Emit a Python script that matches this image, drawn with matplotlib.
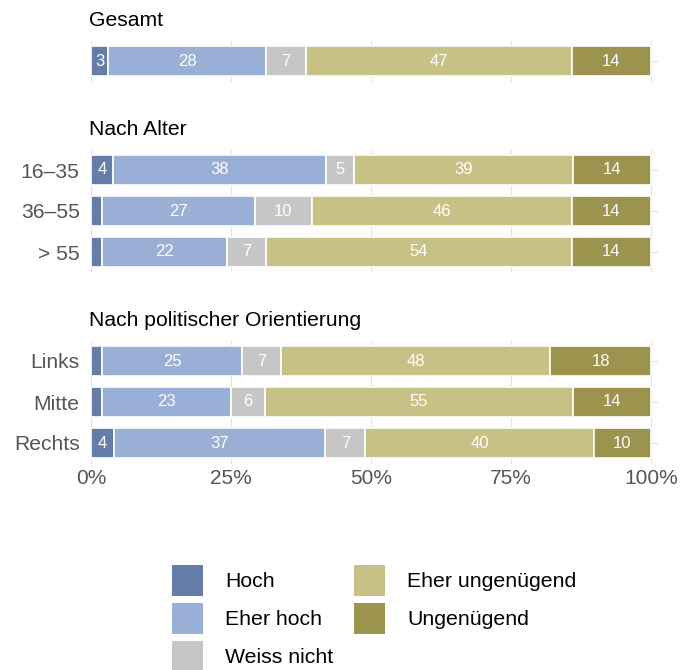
import matplotlib.pyplot as plt
from matplotlib.patches import Patch
import numpy as np

plt.rcParams['font.family'] = ['Liberation Sans', 'DejaVu Sans']

# Antwortkategorien und Farben
categories = ['Hoch', 'Eher hoch', 'Weiss nicht', 'Eher ungenügend', 'Ungenügend']
colors = ['#657da8', '#9aafd6', '#c6c6c6', '#c7c185', '#9c944e']

# Anteile in Prozent je Gruppe
gesamt_labels = ['']
gesamt_values = [[3, 28, 7, 47, 14]]

alter_labels = ['16–35', '36–55', '> 55']
alter_values = [[4, 38, 5, 39, 14],
                [2, 27, 10, 46, 14],
                [2, 22, 7, 54, 14]]

politik_labels = ['Links', 'Mitte', 'Rechts']
politik_values = [[2, 25, 7, 48, 18],
                  [2, 23, 6, 55, 14],
                  [4, 37, 7, 40, 10]]

panels = [('Gesamt', gesamt_labels, gesamt_values, 40.5),
          ('Nach Alter', alter_labels, alter_values, 149.5),
          ('Nach politischer Orientierung', politik_labels, politik_values, 340.5)]

W, H = 683, 670
fig = plt.figure(figsize=(W / 100, H / 100), dpi=100)

x0, x1 = -0.3, 101.2
px_per = 5.6
ax_left = 91 + x0 * px_per
ax_width = (x1 - x0) * px_per
row_h = 41

for i, (title, labels, values, top) in enumerate(panels):
    n = len(labels)
    ax = fig.add_axes([ax_left / W, 1 - (top + n * row_h) / H, ax_width / W, n * row_h / H])
    vals = np.array(values, dtype=float)
    vals = vals / vals.sum(axis=1, keepdims=True) * 100
    y = np.arange(n)
    left = np.zeros(n)
    for j, cat in enumerate(categories):
        ax.barh(y, vals[:, j], left=left, height=0.73, color=colors[j],
                edgecolor='white', linewidth=1.2, zorder=2)
        for k in range(n):
            v = values[k][j]
            if v >= 3:
                ax.text(left[k] + vals[k, j] / 2, y[k], str(v), ha='center', va='center',
                        color='white', fontsize=12, zorder=3)
        left += vals[:, j]

    ax.set_xlim(x0, x1)
    ax.set_ylim(n - 0.5, -0.5)
    ax.set_yticks(y)
    ax.set_yticklabels(labels, fontsize=15.2, color='#555555')
    ax.set_xticks([0, 25, 50, 75, 100])
    ax.grid(True, color='#e2e2e2', linewidth=0.8, zorder=0)
    ax.set_axisbelow(True)
    ax.tick_params(length=0, pad=7)
    for s in ax.spines.values():
        s.set_visible(False)
    if i == len(panels) - 1:
        ax.set_xticklabels(['0%', '25%', '50%', '75%', '100%'], fontsize=15, color='#555555')
        ax.tick_params(axis='x', pad=4)
    else:
        ax.set_xticklabels([])
    fig.text(89 / W, 1 - (top - 20) / H, title, fontsize=15.2, color='black',
             ha='left', va='center')

handles = [Patch(facecolor=c, edgecolor='none') for c in colors]
fig.legend(handles, categories, ncol=2, loc='upper left',
           bbox_to_anchor=(172 / W, 1 - 565 / H), frameon=False,
           fontsize=15.3, handlelength=1.46, handleheight=1.87,
           handletextpad=1.03, labelspacing=0.33, columnspacing=1.0,
           borderpad=0, borderaxespad=0)

fig.savefig('out.png', dpi=100)
